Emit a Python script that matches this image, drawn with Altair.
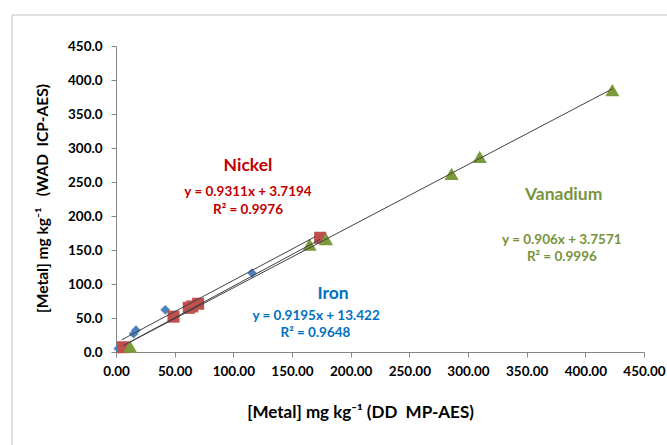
import altair as alt
import pandas as pd

# ---- data ----
iron_x = [2, 15, 17, 42, 116]
iron_y = [5, 27, 32, 62, 116]
nickel_x = [6, 49, 62, 65, 70, 174]
nickel_y = [7, 52, 65, 67, 71, 168]
van_x = [12, 165, 179, 286, 310, 423]
van_y = [8, 158, 166, 262, 287, 385]

series_names = ["Iron", "Nickel", "Vanadium"]
slopes = [0.9195, 0.9311, 0.906]
intercepts = [13.422, 3.7194, 3.7571]
trend_x_ranges = [[5, 170], [6, 174], [12, 423]]

label_titles = ["Nickel", "Iron", "Vanadium"]
label_eqs = ["y = 0.9311x + 3.7194", "y = 0.9195x + 13.422", "y = 0.906x + 3.7571"]
label_r2 = ["R² = 0.9976", "R² = 0.9648", "R² = 0.9996"]
label_colors = ["#C00000", "#0070C0", "#77933C"]
title_pos = [[112.5, 273.5], [185.0, 85.5], [381.5, 231.0]]
eq_pos = [[112.5, 235.5], [170.5, 53.0], [380.0, 164.5]]
r2_pos = [[112.5, 209.0], [170.0, 28.0], [380.0, 139.5]]

x_ticks = [0, 50, 100, 150, 200, 250, 300, 350, 400, 450]
y_ticks = [0, 50, 100, 150, 200, 250, 300, 350, 400, 450]

FONT = "Lato"
W, H = 528, 306
NB = "\u00a0"

iron = pd.DataFrame({"x": iron_x, "y": iron_y})
nickel = pd.DataFrame({"x": nickel_x, "y": nickel_y})
van = pd.DataFrame({"x": van_x, "y": van_y})

trend_rows = []
for name, m, b, rng in zip(series_names, slopes, intercepts, trend_x_ranges):
    for xv in rng:
        trend_rows.append({"series": name, "x": xv, "y": m * xv + b})
trend = pd.DataFrame(trend_rows)

xs = alt.Scale(domain=[0, 450], nice=False, zero=False)
ys = alt.Scale(domain=[0, 450], nice=False, zero=False)

x_axis = alt.Axis(values=x_ticks, format=".2f", grid=False, labelFont=FONT,
                  labelFontWeight="bold", labelFontSize=13.5, labelColor="black",
                  domainColor="#868686", tickColor="#868686", tickSize=5,
                  labelPadding=7, labelFlush=False, labelOverlap=False,
                  title="[Metal] mg kg⁻¹ (DD" + NB + NB + "MP-AES)", titleFont=FONT,
                  titleFontSize=17, titleFontWeight="bold", titleColor="black",
                  titleX=244, titleY=60, titleAlign="center", titleBaseline="middle")
y_axis = alt.Axis(values=y_ticks, format=".1f", grid=False, labelFont=FONT,
                  labelFontWeight="bold", labelFontSize=13.5, labelColor="black",
                  domainColor="#868686", tickColor="#868686", tickSize=5,
                  labelPadding=9, labelFlush=False, labelOverlap=False,
                  title="[Metal] mg kg⁻¹" + NB + NB + NB + "(WAD" + NB + NB + "ICP-AES)",
                  titleFont=FONT,
                  titleFontSize=15.5, titleFontWeight="bold", titleColor="black",
                  titleX=-74, titleY=152, titleAlign="center", titleBaseline="middle",
                  titleAngle=270)

X = alt.X("x:Q", scale=xs, axis=x_axis)
Y = alt.Y("y:Q", scale=ys, axis=y_axis)

iron_pts = alt.Chart(iron).mark_point(shape="diamond", filled=True, size=95,
                                      color="#4F81BD", opacity=1).encode(x=X, y=Y)
nickel_pts = alt.Chart(nickel).mark_point(shape="square", filled=True, size=145,
                                          color="#C0504D", opacity=1).encode(x=X, y=Y)
van_pts = alt.Chart(van).mark_point(shape="triangle-up", filled=True, size=200,
                                    color="#7A9A3C", opacity=1).encode(x=X, y=Y)

lines = alt.Chart(trend).mark_line(color="#404040", strokeWidth=1).encode(
    x=X, y=Y, detail="series:N")

lab_rows = []
for i in range(3):
    lab_rows.append({"x": title_pos[i][0], "y": title_pos[i][1], "t": label_titles[i],
                     "c": label_colors[i]})
lab_rows_small = []
for i in range(3):
    lab_rows_small.append({"x": eq_pos[i][0], "y": eq_pos[i][1], "t": label_eqs[i],
                           "c": label_colors[i]})
    lab_rows_small.append({"x": r2_pos[i][0], "y": r2_pos[i][1], "t": label_r2[i],
                           "c": label_colors[i]})

titles_txt = alt.Chart(pd.DataFrame(lab_rows)).mark_text(
    font=FONT, fontWeight="bold", fontSize=17.5, align="center", baseline="middle"
).encode(x=X, y=Y, text="t:N", color=alt.Color("c:N", scale=None))

small_txt = alt.Chart(pd.DataFrame(lab_rows_small)).mark_text(
    font=FONT, fontWeight="bold", fontSize=13.5, align="center", baseline="middle"
).encode(x=X, y=Y, text="t:N", color=alt.Color("c:N", scale=None))

# light chart-area border (top and left edges visible in the crop)
border_left = alt.Chart(pd.DataFrame({"a": [0]})).mark_rule(color="#BFBFBF", strokeWidth=1).encode(
    x=alt.value(-104), y=alt.value(-31), y2=alt.value(420))
border_top = alt.Chart(pd.DataFrame({"a": [0]})).mark_rule(color="#BFBFBF", strokeWidth=1).encode(
    x=alt.value(-104), x2=alt.value(560), y=alt.value(-31))

chart = alt.layer(iron_pts, nickel_pts, van_pts, lines, titles_txt, small_txt,
                  border_left, border_top).properties(
    width=W, height=H,
    autosize=alt.AutoSizeParams(type="none"),
    padding={"left": 116, "top": 46, "right": 23, "bottom": 93},
    background="white",
).configure_view(stroke=None)

chart.save("out.html", embed_options={"renderer": "svg", "actions": False})
